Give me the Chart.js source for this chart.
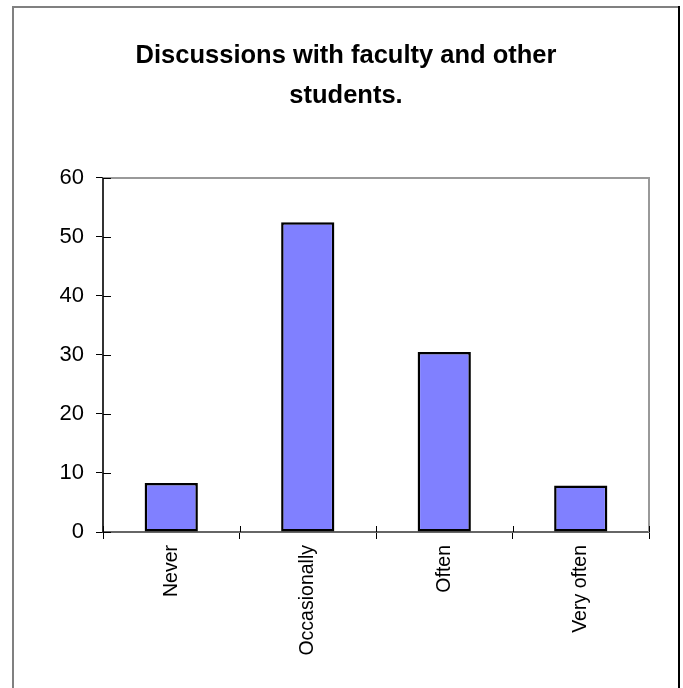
<!DOCTYPE html>
<html>
<head>
<meta charset="utf-8">
<script src="https://cdn.jsdelivr.net/npm/chart.js@4"></script>
<style>
  html, body { margin: 0; padding: 0; background: #fff; }
  #wrap { width: 683px; height: 688px; }
</style>
</head>
<body>
<div id="wrap"><canvas id="grafico" width="683" height="688"></canvas></div>
<script>
// datos del grafico
const categorias = ['Never', 'Occasionally', 'Often', 'Very often'];
const valores = [8.3, 52.5, 30.5, 7.9];
const titulo = ['Discussions with faculty and other', 'students.'];
const ejeY = { min: 0, max: 60, paso: 10 };

// marco exterior, borde del area de trazado y marcas hacia dentro
const decoracion = {
    id: 'decoracion',
    beforeDraw(chart) {
        const ctx = chart.ctx;
        ctx.save();
        ctx.lineWidth = 2;
        ctx.strokeStyle = '#808080';
        ctx.beginPath();
        ctx.moveTo(13, 700);
        ctx.lineTo(13, 7);
        ctx.lineTo(679, 7);
        ctx.stroke();
        ctx.strokeStyle = '#000';
        ctx.beginPath();
        ctx.moveTo(679, 6);
        ctx.lineTo(679, 700);
        ctx.stroke();
        ctx.restore();
    },
    afterDraw(chart) {
        const ctx = chart.ctx;
        const a = chart.chartArea;
        ctx.save();
        ctx.lineWidth = 2;
        ctx.strokeStyle = '#999';
        ctx.beginPath();
        ctx.moveTo(a.left, a.top);
        ctx.lineTo(a.right, a.top);
        ctx.lineTo(a.right, a.bottom);
        ctx.stroke();

        ctx.lineWidth = 1;
        ctx.strokeStyle = '#000';
        const y = chart.scales.y;
        y.ticks.forEach((t, i) => {
            const py = Math.round(y.getPixelForTick(i)) + 0.5;
            ctx.beginPath();
            ctx.moveTo(a.left, py);
            ctx.lineTo(a.left + 8, py);
            ctx.stroke();
        });
        const x = chart.scales.x;
        for (let i = 0; i <= categorias.length; i++) {
            const px = Math.round(x.getPixelForValue(i - 0.5)) + 0.5;
            ctx.beginPath();
            ctx.moveTo(px, a.bottom);
            ctx.lineTo(px, a.bottom - 6);
            ctx.stroke();
        }
        ctx.restore();
    }
};

const ctx = document.getElementById('grafico').getContext('2d');

new Chart(ctx, {
    type: 'bar',
    data: {
        labels: categorias,
        datasets: [{
            label: 'Discussions',
            data: valores,
            backgroundColor: '#8080ff',
            borderColor: '#000',
            borderWidth: 2.5,
            borderSkipped: false,
            categoryPercentage: 1,
            barPercentage: 0.39
        }]
    },
    options: {
        responsive: false,
        animation: false,
        layout: { padding: { left: 13, right: 4, top: 0, bottom: 0 } },
        scales: {
            x: {
                grid: { display: true, drawOnChartArea: false, offset: true, tickLength: 7, tickColor: '#000' },
                border: { display: true, color: '#666', width: 2 },
                ticks: {
                    color: '#000',
                    font: { family: 'Liberation Sans, Arial', size: 19.5 },
                    minRotation: 90,
                    maxRotation: 90,
                    padding: 6
                },
                afterFit(s) { s.height = 156; }
            },
            y: {
                min: ejeY.min,
                max: ejeY.max,
                grid: { display: true, drawOnChartArea: false, tickLength: 7, tickColor: '#000' },
                border: { display: true, color: '#333', width: 2 },
                ticks: {
                    stepSize: ejeY.paso,
                    color: '#000',
                    font: { family: 'Liberation Sans, Arial', size: 22 },
                    padding: 12
                },
                afterFit(s) { s.width = 90; }
            },
            relleno: {
                type: 'linear',
                position: 'right',
                grid: { display: false },
                border: { display: false },
                ticks: { display: false },
                afterFit(s) { s.width = 30; }
            }
        },
        plugins: {
            legend: { display: false },
            tooltip: { enabled: false },
            title: {
                display: true,
                text: titulo,
                color: '#000',
                font: { family: 'Liberation Sans, Arial', size: 25.5, weight: 'bold', lineHeight: 1.55 },
                padding: { top: 36.2, bottom: 62.7 }
            }
        }
    },
    plugins: [decoracion]
});
</script>
</body>
</html>
